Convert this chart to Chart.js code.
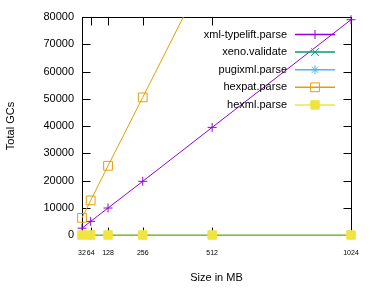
<!DOCTYPE html>
<html><head><meta charset="utf-8">
<script src="https://cdn.jsdelivr.net/npm/chart.js@4/dist/chart.umd.min.js"></script>
<style>html,body{margin:0;padding:0;background:#fff}canvas{display:block}</style>
</head><body>
<canvas id="c" width="374" height="291"></canvas>
<script>
// ---- data ----
const sizesMB = [32, 64, 128, 256, 512, 1024];
const xTickValues = [32, 64, 128, 256, 512, 1024];
const yTickValues = [0, 10000, 20000, 30000, 40000, 50000, 60000, 70000, 80000];
const seriesNames = ['xml-typelift.parse', 'xeno.validate', 'pugixml.parse', 'hexpat.parse', 'hexml.parse'];
const xmlTypeliftParse = [2500, 5000, 9900, 19700, 39500, 79000];
const xenoValidate = [0, 0, 0, 0, 0, 0];
const pugixmlParse = [0, 0, 0, 0, 0, 0];
const hexpatParse = [6300, 12700, 25400, 50500, 101000, 202000];
const hexmlParse = [0, 0, 0, 0, 0, 0];

const FONT = '"Liberation Sans", Arial, sans-serif';
const colors = ['#9400d3', '#009e73', '#56b4e9', '#e69f00', '#f0e442'];
const styles = [
  {pointStyle: 'cross', radius: 4.5, bg: colors[0]},
  {pointStyle: 'crossRot', radius: 5.5, bg: colors[1]},
  {pointStyle: 'star', radius: 4.5, bg: colors[2]},
  {pointStyle: 'rect', radius: 6.2, bg: 'rgba(0,0,0,0)'},
  {pointStyle: 'rect', radius: 6, bg: colors[4]}
];
const values = [xmlTypeliftParse, xenoValidate, pugixmlParse, hexpatParse, hexmlParse];

const datasets = values.map((vals, i) => ({
  label: seriesNames[i],
  data: sizesMB.map((s, j) => ({x: s, y: vals[j]})),
  borderColor: colors[i],
  backgroundColor: styles[i].bg,
  borderWidth: 1,
  pointStyle: styles[i].pointStyle,
  pointRadius: styles[i].radius,
  pointBorderWidth: 1,
  pointBorderColor: colors[i],
  pointBackgroundColor: styles[i].bg,
  tension: 0,
  fill: false,
  order: 4 - i,
  clip: i === 3 ? {left: 10, top: 0, right: 10, bottom: 10} : 10
}));

const framePlugin = {
  id: 'frame',
  beforeDatasetsDraw(chart) {
    const {ctx, chartArea: a, scales: {x, y}} = chart;
    ctx.save();
    ctx.strokeStyle = '#000';
    ctx.lineWidth = 1;
    const L = Math.round(a.left) + 0.5, R = Math.round(a.right) + 0.5;
    const T = Math.round(a.top) + 0.5, B = Math.round(a.bottom) + 0.5;
    ctx.strokeRect(L, T, R - L, B - T);
    const tl = 8;
    ctx.beginPath();
    yTickValues.forEach(v => {
      const py = Math.round(y.getPixelForValue(v)) + 0.5;
      ctx.moveTo(L, py); ctx.lineTo(L + tl, py);
      ctx.moveTo(R, py); ctx.lineTo(R - tl, py);
    });
    xTickValues.forEach(v => {
      const px = Math.round(x.getPixelForValue(v)) + 0.5;
      ctx.moveTo(px, B); ctx.lineTo(px, B - tl);
      ctx.moveTo(px, T); ctx.lineTo(px, T + tl);
    });
    ctx.stroke();
    ctx.restore();
  }
};

const legendPlugin = {
  id: 'gpLegend',
  afterDraw(chart) {
    const {ctx} = chart;
    ctx.save();
    ctx.font = '11px ' + FONT;
    ctx.textAlign = 'right';
    ctx.textBaseline = 'middle';
    seriesNames.forEach((name, i) => {
      const yy = 34.5 + i * 17.6;
      ctx.fillStyle = '#000';
      ctx.fillText(name, 287, yy);
      ctx.strokeStyle = colors[i];
      ctx.lineWidth = 1.5;
      ctx.beginPath();
      ctx.moveTo(295, yy); ctx.lineTo(335, yy);
      ctx.stroke();
      ctx.lineWidth = 1;
      ctx.fillStyle = styles[i].bg;
      Chart.helpers.drawPoint(ctx, {pointStyle: styles[i].pointStyle, radius: styles[i].radius, borderWidth: 1, rotation: 0}, 315, yy);
    });
    ctx.restore();
  }
};

new Chart(document.getElementById('c'), {
  type: 'line',
  data: {datasets},
  options: {
    responsive: false,
    animation: false,
    devicePixelRatio: 1,
    layout: {padding: {left: 0, right: 23, top: 17, bottom: 0}},
    plugins: {legend: {display: false}, tooltip: {enabled: false}},
    scales: {
      x: {
        type: 'linear',
        min: 32, max: 1024,
        grid: {display: false, drawTicks: false},
        border: {display: false},
        afterBuildTicks(s) { s.ticks = xTickValues.map(v => ({value: v})); },
        afterFit(s) { s.height = 56; },
        ticks: {autoSkip: false, maxRotation: 0, padding: 14, color: '#000',
          font: {family: FONT, size: 7}, callback: v => String(v)},
        title: {display: true, text: 'Size in MB', color: '#000',
          font: {family: FONT, size: 11}, padding: {top: 0, bottom: 6}}
      },
      y: {
        min: 0, max: 80000,
        grid: {display: false, drawTicks: false},
        border: {display: false},
        afterBuildTicks(s) { s.ticks = yTickValues.map(v => ({value: v})); },
        afterFit(s) { s.width = 82; },
        ticks: {padding: 8, color: '#000', font: {family: FONT, size: 11},
          callback: v => String(v)},
        title: {display: true, text: 'Total GCs', color: '#000',
          font: {family: FONT, size: 11}, padding: {top: 4, bottom: 0}}
      }
    }
  },
  plugins: [framePlugin, legendPlugin]
});
</script>
</body></html>
